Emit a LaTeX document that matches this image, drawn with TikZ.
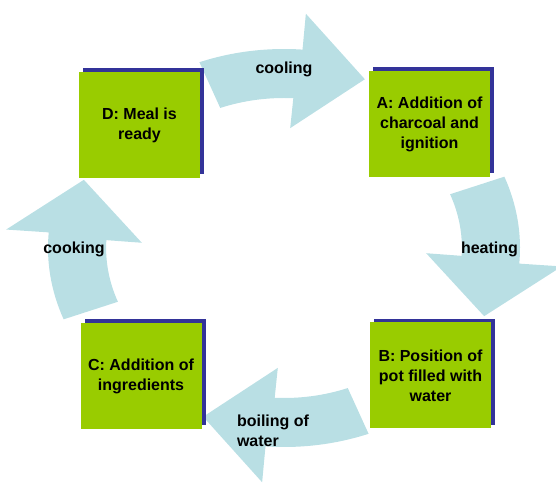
\documentclass[tikz,border=0pt]{standalone}
\usepackage{fontspec}
\setmainfont{Liberation Sans}
\usetikzlibrary{shadows}
\definecolor{boxgreen}{HTML}{99CC00}
\definecolor{shadowblue}{HTML}{333399}
\definecolor{arrowblue}{HTML}{B9DFE4}
\tikzset{
  stepbox/.style={fill=boxgreen, minimum width=121pt, minimum height=106pt,
    inner sep=0pt, align=center, font=\bfseries\fontsize{16}{20}\selectfont,
    drop shadow={shadow xshift=4pt, shadow yshift=3.5pt, fill=shadowblue, opacity=1}},
  lbl/.style={inner sep=0pt, font=\bfseries\fontsize{16}{19.5}\selectfont},
  arrowfill/.style={fill=arrowblue}
}
\newcommand\ringarrow[1]{%
  \fill[arrowfill] (#1:199) arc[start angle=#1, end angle=#1-25.5, radius=199]
    -- (#1-25.5:235) -- (#1-43:182) -- (#1-23.5:120) -- (#1-24:150)
    arc[start angle=#1-24, end angle=#1, radius=150] -- cycle;}
\begin{document}
\begin{tikzpicture}[x=1pt,y=1pt]
\useasboundingbox (0,0) rectangle (556,484);
\begin{scope}[shift={(284,236)}, xscale=1.186]
  \ringarrow{111}
  \ringarrow{21}
  \ringarrow{-69}
  \ringarrow{201}
\end{scope}
\node[stepbox] (D) at (139.5,359) {D: Meal is\\ready};
\node[stepbox] (A) at (429.5,360) {A: Addition of\\charcoal and\\ignition};
\node[stepbox] (B) at (430.5,108.5) {B: Position of\\pot filled with\\water};
\node[stepbox] (C) at (141,108) {C: Addition of\\ingredients};
\node[lbl] (cool) at (284,415) {cooling};
\node[lbl] (heat) at (489.5,234.5) {heating};
\node[lbl] (cook) at (74,235) {cooking};
\node[lbl, align=left] (boil) at (273,53) {boiling of\\water};
\end{tikzpicture}
\end{document}
